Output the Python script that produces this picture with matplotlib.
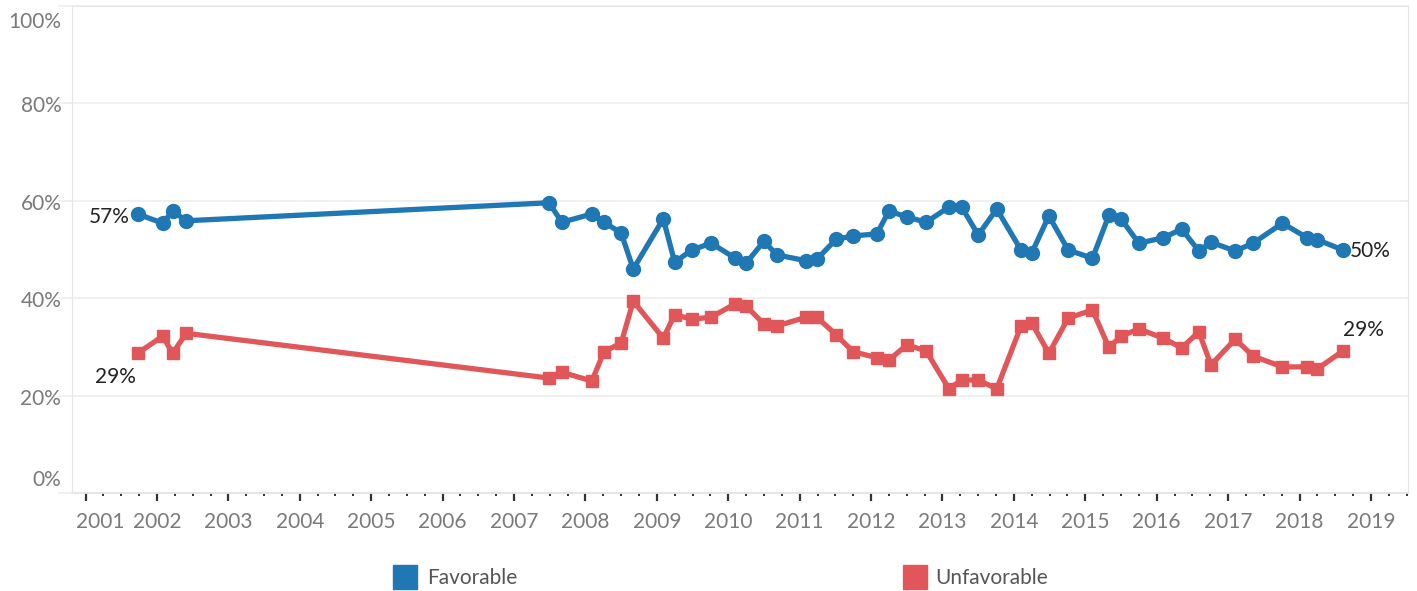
import matplotlib.pyplot as plt
from matplotlib.patches import Rectangle
from matplotlib.transforms import ScaledTranslation
import numpy as np

plt.rcParams['font.family'] = ['Lato', 'DejaVu Sans']

# survey dates (decimal years)
dates = [2001.73, 2002.08, 2002.22, 2002.41, 2007.49, 2007.67, 2008.09, 2008.26,
         2008.50, 2008.67, 2009.09, 2009.25, 2009.49, 2009.76, 2010.09, 2010.25,
         2010.50, 2010.68, 2011.09, 2011.24, 2011.51, 2011.75, 2012.08, 2012.25,
         2012.50, 2012.77, 2013.09, 2013.27, 2013.50, 2013.76, 2014.10, 2014.25,
         2014.49, 2014.76, 2015.10, 2015.33, 2015.50, 2015.75, 2016.09, 2016.35,
         2016.59, 2016.76, 2017.10, 2017.35, 2017.76, 2018.11, 2018.25, 2018.61]

favorable = [57.3, 55.4, 57.9, 55.9, 59.6, 55.6, 57.3, 55.6, 53.4, 46.0, 56.3, 47.4,
             49.9, 51.3, 48.3, 47.2, 51.7, 48.9, 47.7, 48.0, 52.1, 52.8, 53.2, 57.9,
             56.7, 55.6, 58.7, 58.7, 53.0, 58.3, 49.9, 49.3, 56.9, 49.9, 48.2, 57.0,
             56.3, 51.3, 52.4, 54.2, 49.7, 51.5, 49.7, 51.3, 55.4, 52.4, 52.0, 49.9]

unfavorable = [28.7, 32.2, 28.7, 32.8, 23.6, 24.8, 23.0, 29.0, 30.8, 39.4, 31.8, 36.6,
               35.7, 36.1, 38.8, 38.4, 34.7, 34.3, 36.1, 36.1, 32.5, 29.0, 27.8, 27.3,
               30.4, 29.2, 21.4, 23.2, 23.2, 21.4, 34.3, 34.9, 28.7, 35.9, 37.6, 29.9,
               32.2, 33.7, 31.8, 29.8, 33.1, 26.3, 31.6, 28.1, 25.9, 25.9, 25.5, 29.2]

years = list(range(2001, 2020))
y_ticks = [0, 20, 40, 60, 80, 100]

blue = "#1f77b4"
red = "#e15759"
grid_col = "#efefef"
tick_col = "#7a7a7a"
fs = 15

fig = plt.figure(figsize=(14.17, 5.91), dpi=100)
ax = fig.add_axes([0.0508, 0.1658, 0.9429, 0.824])

ax.plot(dates, favorable, color=blue, lw=3.8, marker="o", ms=10, zorder=3)
ax.plot(dates, unfavorable, color=red, lw=3.8, marker="s", ms=9, zorder=3)

ax.set_xlim(2000.81, 2019.52)
ax.set_ylim(0, 100)

# gridlines, extending a bit left of the axis like the original
for v in y_ticks:
    ax.axhline(v, xmin=-0.01, xmax=1, color=grid_col, lw=1.3, clip_on=False, zorder=0)
    off = 2.7 if v == 0 else (-3.3 if v == 100 else -0.6)
    ax.text(-0.008, (v + off) / 100, f"{v}%", transform=ax.transAxes, ha="right",
            va="center", fontsize=fs, color=tick_col)

for s in ["top", "right", "left", "bottom"]:
    ax.spines[s].set_color("#e6e6e6")
ax.spines["bottom"].set_linewidth(1.3)

ax.set_yticks([])
ax.set_xticks(years)
ax.set_xticklabels([str(y) for y in years], fontsize=fs, color=tick_col)
ax.set_xticks(np.arange(2001, 2019.6, 0.25), minor=True)
ax.tick_params(axis="x", which="major", length=6, width=1.6, color="#333333", pad=8)
ax.tick_params(axis="x", which="minor", length=2, width=1.4, color="#333333")

# first year label sits a bit to the right of its tick
first = ax.get_xticklabels()[0]
first.set_transform(first.get_transform() + ScaledTranslation(15 / 100, 0, fig.dpi_scale_trans))

# end labels
ax.annotate("57%", (dates[0], favorable[0]), xytext=(-6, -2), textcoords="offset points",
            ha="right", va="center", fontsize=fs, color="#222222")
ax.annotate("29%", (dates[0], unfavorable[0]), xytext=(-16, -17), textcoords="offset points",
            ha="center", va="center", fontsize=fs, color="#222222")
ax.annotate("50%", (dates[-1], favorable[-1]), xytext=(5, -1), textcoords="offset points",
            ha="left", va="center", fontsize=fs, color="#222222")
ax.annotate("29%", (dates[-1], unfavorable[-1]), xytext=(0, 15), textcoords="offset points",
            ha="left", va="center", fontsize=fs, color="#222222")

# legend
fig.add_artist(Rectangle((393 / 1417, 1 - 589 / 591), 24 / 1417, 24 / 591,
                         transform=fig.transFigure, color=blue))
fig.text(427 / 1417, 1 - 578 / 591, "Favorable", fontsize=fs, color="#555555", va="center")
fig.add_artist(Rectangle((903 / 1417, 1 - 589 / 591), 24 / 1417, 24 / 591,
                         transform=fig.transFigure, color=red))
fig.text(935 / 1417, 1 - 578 / 591, "Unfavorable", fontsize=fs, color="#555555", va="center")

fig.savefig("out.png", dpi=100)
